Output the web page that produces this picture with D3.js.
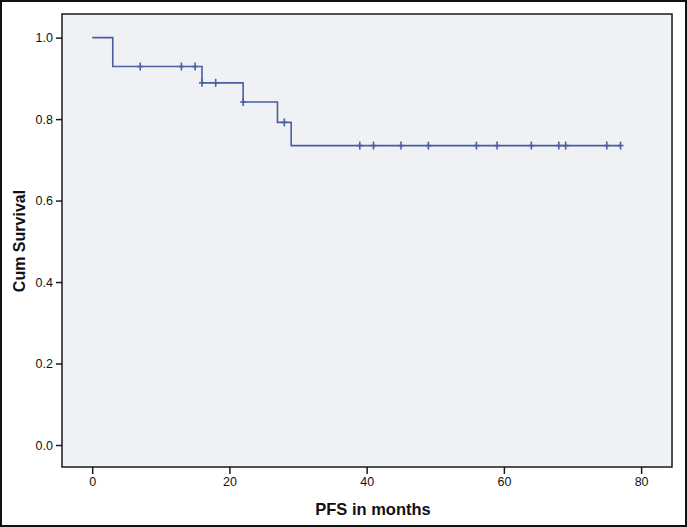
<!DOCTYPE html>
<html>
<head>
<meta charset="utf-8">
<script src="https://cdn.jsdelivr.net/npm/d3@7/dist/d3.min.js"></script>
<style>
  html, body { margin: 0; padding: 0; background: #fff; }
  svg { display: block; }
  text { font-family: Arial, "Liberation Sans", sans-serif; }
</style>
</head>
<body>
<svg id="chart" width="687" height="527"></svg>
<script>
// ---- Data ----
const stepTimes = [0, 3, 16, 22, 27, 29];
const survival  = [1.0, 0.929, 0.889, 0.842, 0.792, 0.735];
const censorTimes = [7, 13, 15, 16, 18, 22, 28, 39, 41, 45, 49, 56, 59, 64, 68, 69, 75, 77];
const lastTime = 77;
const xTicks = [0, 20, 40, 60, 80];
const yTicks = [0.0, 0.2, 0.4, 0.6, 0.8, 1.0];
const xLabel = "PFS in months";
const yLabel = "Cum Survival";

// ---- Layout ----
const W = 687, H = 527;
const plot = { left: 62, right: 672, top: 14, bottom: 467 };
const svg = d3.select("#chart");

// outer frame
svg.append("rect")
  .attr("x", 1).attr("y", 1).attr("width", W - 2).attr("height", H - 2)
  .attr("fill", "#fff").attr("stroke", "#111").attr("stroke-width", 2);

const x = d3.scaleLinear().domain([-4.4, 84.5]).range([plot.left, plot.right]);
const y = d3.scaleLinear().domain([-0.054, 1.058]).range([plot.bottom, plot.top]);

// plot area
svg.append("rect")
  .attr("x", plot.left).attr("y", plot.top)
  .attr("width", plot.right - plot.left).attr("height", plot.bottom - plot.top)
  .attr("fill", "#F0F1F5").attr("stroke", "#1a1a1a").attr("stroke-width", 1.5);

// axes
const xAxis = d3.axisBottom(x).tickValues(xTicks).tickSize(7).tickPadding(3).tickFormat(d3.format("d"));
const yAxis = d3.axisLeft(y).tickValues(yTicks).tickSize(6).tickPadding(3).tickFormat(d3.format(".1f"));

const gx = svg.append("g").attr("transform", `translate(0,${plot.bottom})`).call(xAxis);
const gy = svg.append("g").attr("transform", `translate(${plot.left},0)`).call(yAxis);
[gx, gy].forEach(g => {
  g.select(".domain").remove();
  g.selectAll(".tick line").attr("stroke", "#1a1a1a").attr("stroke-width", 1.5);
  g.selectAll(".tick text")
    .attr("fill", "#111")
    .style("font-size", "12.5px")
    .style("font-family", 'Arial, "Liberation Sans", sans-serif');
});

// survival step line
const pts = stepTimes.map((t, i) => [t, survival[i]]);
pts.push([lastTime, survival[survival.length - 1]]);
const line = d3.line()
  .x(d => x(d[0])).y(d => y(d[1]))
  .curve(d3.curveStepAfter);
const lineColor = "#4A5FA3";
svg.append("path")
  .datum(pts)
  .attr("d", line)
  .attr("fill", "none")
  .attr("stroke", lineColor)
  .attr("stroke-width", 1.6);

// censor marks
function survAt(t) {
  let s = survival[0];
  for (let i = 0; i < stepTimes.length; i++) if (stepTimes[i] <= t) s = survival[i];
  return s;
}
const cg = svg.append("g").attr("stroke", lineColor).attr("stroke-width", 1.6);
censorTimes.forEach(t => {
  const cx = x(t), cy = y(survAt(t));
  cg.append("line").attr("x1", cx).attr("x2", cx).attr("y1", cy - 4).attr("y2", cy + 4);
  cg.append("line").attr("x1", cx - 3).attr("x2", cx + 3).attr("y1", cy).attr("y2", cy);
});

// axis titles
svg.append("text")
  .attr("x", 373).attr("y", 515)
  .attr("text-anchor", "middle")
  .style("font-size", "16.5px").style("font-weight", "bold")
  .attr("fill", "#111")
  .text(xLabel);

svg.append("text")
  .attr("transform", "translate(25,241) rotate(-90)")
  .attr("text-anchor", "middle")
  .style("font-size", "16px").style("font-weight", "bold")
  .attr("fill", "#111")
  .text(yLabel);
</script>
</body>
</html>
